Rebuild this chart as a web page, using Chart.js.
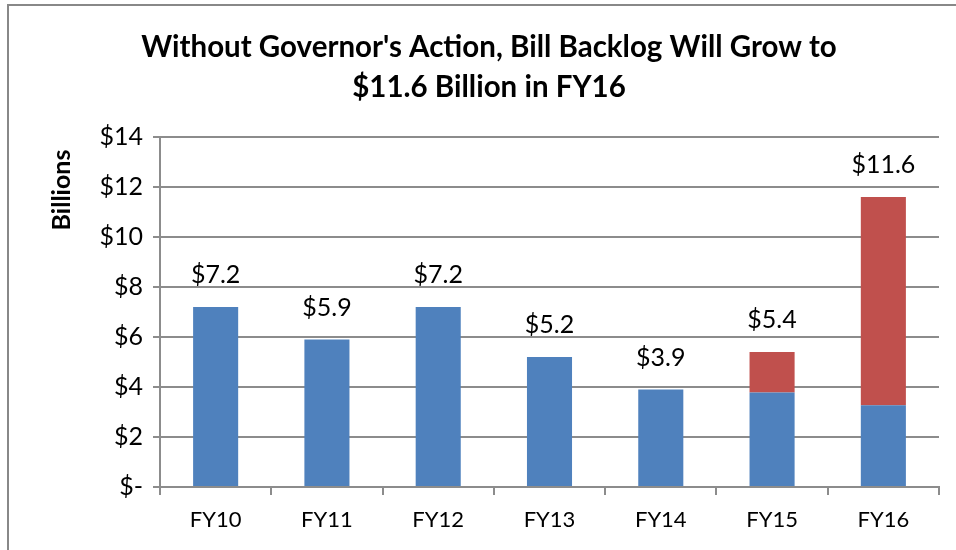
<!DOCTYPE html>
<html>
<head>
<meta charset="utf-8">
<script src="https://cdn.jsdelivr.net/npm/chart.js@4"></script>
<style>
  html, body { margin: 0; padding: 0; background: #fff; overflow: hidden; }
  #wrap { width: 956px; height: 550px; }
</style>
</head>
<body>
<div id="wrap"><canvas id="backlog" width="956" height="550"></canvas></div>
<script>
// Chart data
const years = ["FY10", "FY11", "FY12", "FY13", "FY14", "FY15", "FY16"];
const baseBacklog = [7.2, 5.9, 7.2, 5.2, 3.9, 3.78, 3.27];
const addedBacklog = [null, null, null, null, null, 1.62, 8.33];
const titleLines = ["Without Governor's Action, Bill Backlog Will Grow to", "$11.6 Billion in FY16"];
const axisTitle = "Billions";

const FONT = "Lato, 'Liberation Sans', sans-serif";
const GRID = "#8c8c8c";

// outer frame (only top and left edges are visible in the picture)
const framePlugin = {
  id: "frame",
  beforeDraw(chart) {
    const ctx = chart.ctx;
    ctx.save();
    ctx.strokeStyle = "#888";
    ctx.lineWidth = 2;
    ctx.beginPath();
    ctx.moveTo(8, chart.height);
    ctx.lineTo(8, 5);
    ctx.lineTo(chart.width, 5);
    ctx.stroke();
    ctx.restore();
  }
};

// rotated "Billions" label sits near top of the axis, not centred
const axisTitlePlugin = {
  id: "axisTitle",
  afterDraw(chart) {
    const ctx = chart.ctx;
    ctx.save();
    ctx.translate(62, 190);
    ctx.rotate(-Math.PI / 2);
    ctx.font = "bold 25px " + FONT;
    ctx.fillStyle = "#000";
    ctx.textAlign = "center";
    ctx.textBaseline = "middle";
    ctx.fillText(axisTitle, 0, 0);
    ctx.restore();
  }
};

// total above each stack
const totalsPlugin = {
  id: "totals",
  afterDatasetsDraw(chart) {
    const ctx = chart.ctx;
    const yScale = chart.scales.y;
    const xScale = chart.scales.x;
    ctx.save();
    ctx.font = "25px " + FONT;
    ctx.fillStyle = "#000";
    ctx.textAlign = "center";
    ctx.textBaseline = "middle";
    years.forEach((yr, i) => {
      let total = (baseBacklog[i] || 0) + (addedBacklog[i] || 0);
      let x = xScale.getPixelForValue(i);
      let y = yScale.getPixelForValue(total);
      ctx.fillText("$" + total.toFixed(1), x, y - 32);
    });
    ctx.restore();
  }
};

new Chart(document.getElementById("backlog"), {
  type: "bar",
  data: {
    labels: years,
    datasets: [
      { label: "Backlog", data: baseBacklog, backgroundColor: "#4F81BD" },
      { label: "Added backlog", data: addedBacklog, backgroundColor: "#C0504D" }
    ]
  },
  options: {
    responsive: false,
    animation: false,
    devicePixelRatio: 1,
    layout: { padding: { left: 39, right: 17, top: 0, bottom: 0 } },
    datasets: { bar: { categoryPercentage: 1, barPercentage: 0.405 } },
    plugins: {
      legend: { display: false },
      tooltip: { enabled: false },
      title: {
        display: true,
        text: titleLines,
        color: "#000",
        font: { family: FONT, size: 29.5, weight: "bold", lineHeight: 1.356 },
        padding: { top: 27, bottom: 30 }
      }
    },
    scales: {
      x: {
        stacked: true,
        grid: { drawOnChartArea: false, drawTicks: true, tickLength: 8, color: GRID, lineWidth: 2 },
        border: { color: GRID, width: 2 },
        ticks: { color: "#000", font: { family: FONT, size: 22 }, padding: 12 },
        afterFit(scale) { scale.height = 63; }
      },
      y: {
        stacked: true,
        min: 0,
        max: 14,
        grid: { color: GRID, lineWidth: 2, tickLength: 7 },
        border: { color: GRID, width: 2 },
        ticks: {
          stepSize: 2,
          color: "#000",
          font: { family: FONT, size: 25 },
          padding: 10,
          callback: v => v === 0 ? "$-" : "$" + v
        },
        afterFit(scale) { scale.width = 121; }
      }
    }
  },
  plugins: [framePlugin, axisTitlePlugin, totalsPlugin]
});
</script>
</body>
</html>
